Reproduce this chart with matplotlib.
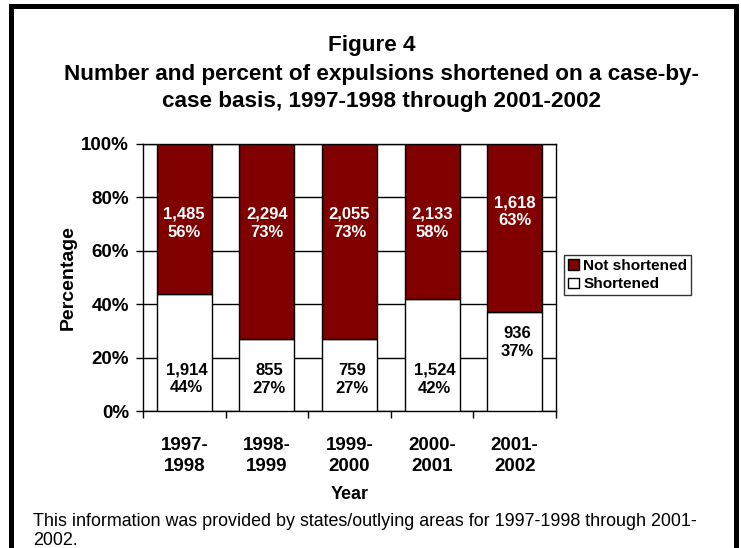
import matplotlib
matplotlib.use("Agg")
import matplotlib.pyplot as plt
from matplotlib.patches import Rectangle, Patch
from matplotlib.ticker import FixedLocator, PercentFormatter

plt.rcParams['font.family'] = ['Liberation Sans', 'DejaVu Sans']

categories = ["1997-\n1998", "1998-\n1999", "1999-\n2000", "2000-\n2001", "2001-\n2002"]
shortened_pct = [44, 27, 27, 42, 37]
not_shortened_pct = [56, 73, 73, 58, 63]
shortened_n = ["1,914", "855", "759", "1,524", "936"]
not_shortened_n = ["1,485", "2,294", "2,055", "2,133", "1,618"]
y_ticks = [0, 20, 40, 60, 80, 100]

# label anchor heights (layout)
top_label_y = [70.3, 70.3, 70.3, 70.3, 74.6]
bot_label_y = [12.0, 11.8, 11.8, 11.8, 25.5]

W, H = 741, 548
fig = plt.figure(figsize=(W / 100, H / 100), dpi=100)
fig.patch.set_facecolor("white")

# outer border
fig.add_artist(Rectangle((10.5 / W, -0.05), (735.5 - 10.5) / W, 1.05 - 5.5 / H,
                         transform=fig.transFigure, fill=False,
                         edgecolor="black", linewidth=3.6))

ax = fig.add_axes([143 / W, 1 - 411 / H, (556 - 143) / W, (411 - 144) / H])
x = list(range(len(categories)))
red = "#800000"
ax.bar(x, shortened_pct, width=0.665, color="white", edgecolor="black",
       linewidth=1.0, zorder=3, label="Shortened")
ax.bar(x, not_shortened_pct, bottom=shortened_pct, width=0.665, color=red,
       edgecolor="black", linewidth=1.0, zorder=3, label="Not shortened")

ax.set_xlim(-0.5, len(categories) - 0.5)
ax.set_ylim(0, 100)
ax.yaxis.set_major_locator(FixedLocator(y_ticks))
ax.yaxis.set_major_formatter(PercentFormatter(decimals=0))
ax.grid(axis="y", color="black", linewidth=1.0, zorder=0)
ax.set_axisbelow(True)
for s in ["left", "bottom", "right", "top"]:
    ax.spines[s].set_color("black")
    ax.spines[s].set_linewidth(1.0)

ax.set_xticks(x)
ax.set_xticklabels(categories, fontsize=13.5, fontweight="bold", linespacing=1.3)
ax.tick_params(axis="x", which="major", length=0, pad=19)
ax.set_xticks([i - 0.5 for i in range(len(categories) + 1)], minor=True)
ax.tick_params(axis="x", which="minor", length=5, width=1, direction="out")
ax.tick_params(axis="y", length=5, width=1, labelsize=13.5, pad=5)
for lab in ax.get_yticklabels():
    lab.set_fontweight("bold")

for i in x:
    ax.text(i, top_label_y[i], f"{not_shortened_n[i]}\n{not_shortened_pct[i]}%",
            ha="center", va="center", color="white", fontsize=12,
            fontweight="bold", linespacing=1.22, zorder=5)
    ax.text(i + 0.03, bot_label_y[i], f"{shortened_n[i]}\n{shortened_pct[i]}%",
            ha="center", va="center", color="black", fontsize=12,
            fontweight="bold", linespacing=1.25, zorder=5)

ax.set_ylabel("Percentage", fontsize=14, fontweight="bold", labelpad=3)
ax.set_xlabel("Year", fontsize=13, fontweight="bold", labelpad=8)

handles = [Patch(facecolor=red, edgecolor="black", label="Not shortened"),
           Patch(facecolor="white", edgecolor="black", label="Shortened")]
leg = fig.legend(handles=handles, loc="upper left",
                 bbox_to_anchor=(564 / W, 1 - 255 / H),
                 prop={"weight": "bold", "size": 11.1},
                 frameon=True, fancybox=False, borderpad=0.25,
                 handlelength=0.7, handleheight=0.7, handletextpad=0.3,
                 labelspacing=0.3, borderaxespad=0)
leg.get_frame().set_edgecolor("black")
leg.get_frame().set_linewidth(1.0)

fig.text(372 / W, 1 - 45 / H, "Figure 4", ha="center", va="center",
         fontsize=16.2, fontweight="bold")
fig.text(382 / W, 1 - 88 / H,
         "Number and percent of expulsions shortened on a case-by-\ncase basis, 1997-1998 through 2001-2002",
         ha="center", va="center", fontsize=16.2, fontweight="bold", linespacing=1.36)

fig.text(33 / W, 1 - 531 / H,
         "This information was provided by states/outlying areas for 1997-1998 through 2001-\n2002.",
         ha="left", va="center", fontsize=12.9, linespacing=1.16)

fig.savefig("out.png", dpi=100)
